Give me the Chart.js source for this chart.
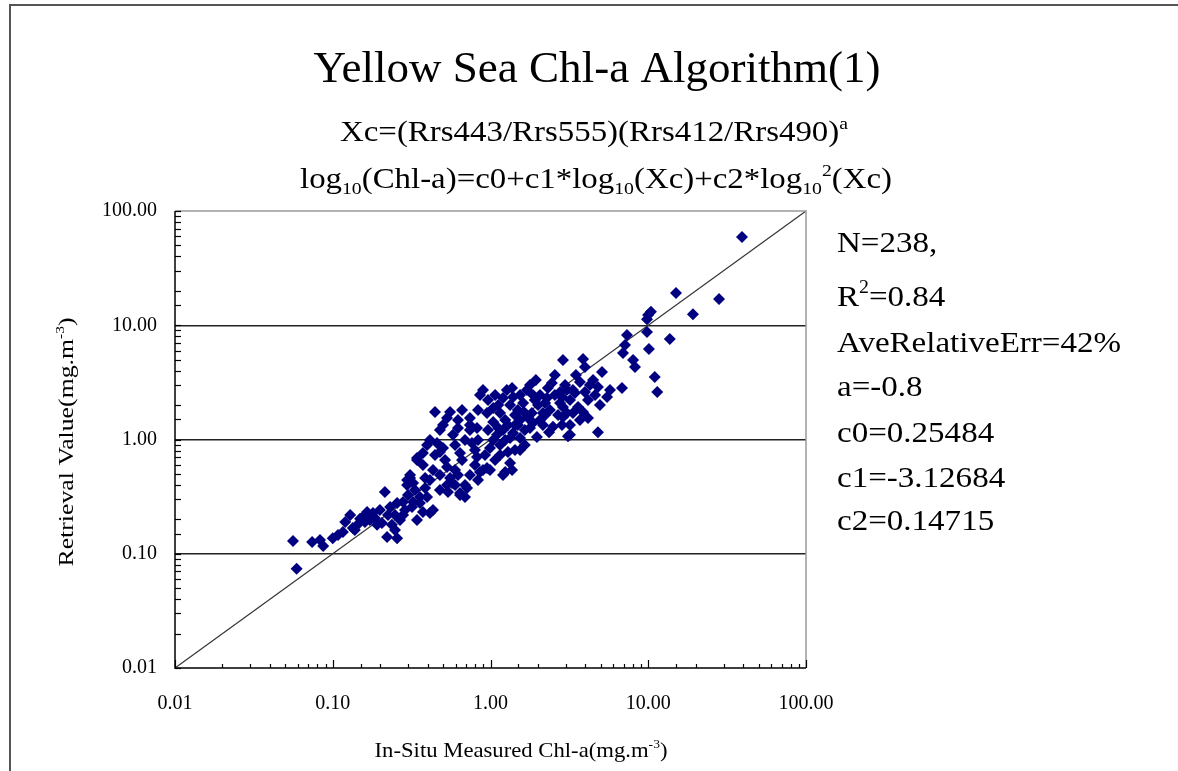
<!DOCTYPE html>
<html>
<head>
<meta charset="utf-8">
<script src="https://cdn.jsdelivr.net/npm/chart.js@4.4.1/dist/chart.umd.min.js"></script>
<style>
html, body { margin: 0; padding: 0; background: #fff; }
</style>
</head>
<body>
<canvas id="chart" width="1178" height="771"></canvas>
<script>
// in-situ chl-a (x) and retrieved chl-a (y), mg.m-3
var insituChl = [
  0.056, 0.059, 0.074, 0.083, 0.087, 0.100, 0.108, 0.116, 0.129, 0.134,
  0.145, 0.149, 0.155, 0.165, 0.172, 0.180, 0.191, 0.199, 0.205, 0.214,
  0.221, 0.231, 0.248, 0.256, 0.256, 0.267, 0.279, 0.287, 0.296, 0.309,
  0.318, 0.323, 0.342, 0.342, 0.357, 0.357, 0.373, 0.373, 0.396, 0.413,
  0.432, 0.279, 0.300, 0.224, 0.185, 0.160, 0.138, 0.237, 0.332, 0.385,
  0.413, 0.458, 0.396, 0.342, 0.373, 0.500, 0.478, 0.530, 0.570, 0.641,
  0.689, 0.530, 0.596, 0.689, 0.710, 0.641, 0.554, 0.478, 0.309, 0.296,
  0.323, 0.432, 0.596, 0.641, 0.763, 0.821, 0.858, 0.741, 0.950, 0.896,
  0.833, 0.741, 0.578, 0.500, 0.622, 0.741, 0.821, 0.660, 0.797, 0.923,
  0.993, 0.515, 0.445, 0.385, 0.478, 0.622, 0.538, 0.833, 1.07, 1.15,
  1.20, 1.24, 1.33, 1.54, 1.43, 1.33, 1.54, 1.20, 1.39, 1.04,
  1.10, 1.24, 1.97, 1.86, 1.65, 1.15, 1.29, 1.65, 1.04, 1.12,
  1.43, 1.78, 2.15, 0.993, 1.37, 0.554, 0.660, 0.530, 0.950, 0.858,
  0.964, 0.896, 0.741, 0.622, 0.445, 0.478, 0.833, 1.04, 1.07, 0.689,
  1.15, 1.27, 1.39, 1.70, 1.61, 1.83, 2.15, 2.38, 2.76, 2.49,
  2.45, 3.43, 3.05, 3.19, 1.33, 1.49, 1.20, 1.91, 2.06, 2.22,
  1.54, 1.43, 1.73, 2.00, 2.56, 2.31, 1.78, 1.24, 2.06, 2.68,
  2.84, 2.35, 1.12, 1.37, 1.63, 1.94, 2.28, 2.76, 1.49, 1.86,
  2.88, 3.86, 3.97, 5.09, 4.47, 4.80, 3.69, 3.33, 3.05, 5.72,
  5.48, 4.94, 2.84, 2.88, 3.59, 3.33, 2.88, 4.15, 4.80, 3.10,
  3.69, 4.15, 4.60, 3.97, 3.19, 3.48, 4.27, 3.86, 3.19, 2.56,
  39.3, 15.0, 28.1, 19.2, 10.4, 9.82, 9.97, 9.82, 13.7, 7.33,
  7.12, 6.92, 10.1, 8.01, 8.24, 11.0, 11.4, 6.82, 0.964, 0.596,
  0.797, 1.29, 2.22, 0.248, 0.120, 0.413, 1.54, 2.97
];
var retrievedChl = [
  0.129, 0.074, 0.127, 0.132, 0.117, 0.137, 0.146, 0.155, 0.218, 0.168,
  0.182, 0.202, 0.210, 0.232, 0.197, 0.227, 0.179, 0.242, 0.186, 0.347,
  0.140, 0.257, 0.218, 0.137, 0.278, 0.197, 0.218, 0.242, 0.442, 0.460,
  0.257, 0.416, 0.197, 0.662, 0.278, 0.314, 0.762, 0.232, 0.314, 0.227,
  0.242, 0.284, 0.327, 0.218, 0.206, 0.190, 0.161, 0.179, 0.361, 0.376,
  0.99, 0.932, 0.895, 0.689, 0.598, 0.843, 0.777, 0.575, 0.416, 0.340,
  0.314, 0.400, 0.400, 0.400, 0.376, 0.327, 0.460, 0.489, 0.489, 0.400,
  0.284, 0.541, 0.541, 0.762, 0.932, 0.703, 0.520, 0.489, 0.563, 0.541,
  0.99, 1.21, 1.10, 1.34, 1.26, 1.34, 1.26, 0.662, 0.598, 0.732,
  0.843, 0.662, 0.732, 0.460, 0.361, 0.489, 0.347, 0.442, 0.662, 0.895,
  0.489, 0.520, 0.623, 0.810, 0.810, 1.03, 1.03, 1.21, 1.14, 1.42,
  1.10, 0.99, 1.05, 1.40, 1.21, 0.732, 0.777, 0.895, 0.99, 1.26,
  1.34, 1.26, 1.34, 0.541, 0.541, 1.74, 1.81, 1.54, 1.71, 2.45,
  2.22, 2.71, 1.54, 1.48, 1.74, 1.21, 1.81, 1.89, 2.45, 0.99,
  1.71, 2.71, 2.36, 2.71, 2.09, 1.71, 1.71, 1.81, 2.09, 1.29,
  3.12, 2.55, 1.71, 1.10, 2.00, 1.81, 2.31, 2.22, 2.45, 2.09,
  2.45, 1.64, 1.54, 2.00, 2.45, 2.82, 3.00, 1.48, 1.48, 1.64,
  1.34, 1.16, 2.00, 2.82, 1.74, 3.32, 2.31, 2.60, 1.34, 2.45,
  4.97, 5.07, 4.31, 3.90, 3.32, 2.88, 3.19, 2.71, 2.71, 2.71,
  2.36, 2.00, 2.36, 1.93, 1.93, 1.71, 1.57, 1.54, 1.16, 1.07,
  1.48, 2.22, 2.45, 2.60, 2.22, 3.67, 3.00, 1.74, 1.34, 3.67,
  59.2, 19.2, 17.0, 12.5, 13.1, 11.3, 12.3, 8.73, 7.58, 8.22,
  6.72, 5.72, 6.20, 4.97, 4.31, 3.52, 2.60, 2.82, 1.21, 0.895,
  0.810, 1.34, 1.64, 0.161, 0.190, 0.442, 1.48, 3.00
];
var oneToOne = [0.01, 100];
var decadeTicks = [0.01, 0.1, 1, 10, 100];
var gridDecades = [0.1, 1, 10];

var chartTitle = [['Yellow Sea Chl-a Algorithm(1)', '']];
var formulaLines = [
  [['Xc=(Rrs443/Rrs555)(Rrs412/Rrs490)', ''], ['a', 'sup']],
  [['log', ''], ['10', 'sub'], ['(Chl-a)=c0+c1*log', ''], ['10', 'sub'], ['(Xc)+c2*log', ''], ['10', 'sub'], ['2', 'sup'], ['(Xc)', '']]
];
var statLines = [
  [['N=238,', '']],
  [['R', ''], ['2', 'sup'], ['=0.84', '']],
  [['AveRelativeErr=42%', '']],
  [['a=-0.8', '']],
  [['c0=0.25484', '']],
  [['c1=-3.12684', '']],
  [['c2=0.14715', '']]
];
var xTitle = [['In-Situ Measured Chl-a(mg.m', ''], ['-3', 'sup'], [')', '']];
var yTitle = [['Retrieval Value(mg.m', ''], ['-3', 'sup'], [')', '']];

var FONT = '"Liberation Serif", "Times New Roman", serif';

function isDecade(v) {
  return decadeTicks.some(function (d) { return Math.abs(v - d) < d * 1e-6; });
}
function isGrid(v) {
  return gridDecades.some(function (d) { return Math.abs(v - d) < d * 1e-6; });
}

function richWidth(ctx, parts, size) {
  var w = 0;
  parts.forEach(function (p) {
    ctx.font = (p[1] ? size * 0.6 : size) + 'px ' + FONT;
    w += ctx.measureText(p[0]).width;
  });
  return w;
}

// draws text with sup/sub parts; width (optional) squeezes it to that width
function drawRich(ctx, parts, x, y, size, align, width, sx) {
  var w = richWidth(ctx, parts, size);
  if (!sx) sx = width ? width / w : 1;
  var x0 = align === 'center' ? x - w * sx / 2 : x;
  ctx.save();
  ctx.translate(x0, y);
  ctx.scale(sx, 1);
  ctx.textAlign = 'left';
  ctx.textBaseline = 'alphabetic';
  ctx.fillStyle = '#000';
  var cx = 0;
  parts.forEach(function (p) {
    var s = p[1] ? size * 0.6 : size;
    var dy = p[1] === 'sup' ? -size * 0.42 : (p[1] === 'sub' ? size * 0.22 : 0);
    ctx.font = s + 'px ' + FONT;
    ctx.fillText(p[0], cx, dy);
    cx += ctx.measureText(p[0]).width;
  });
  ctx.restore();
}

var decor = {
  id: 'decor',
  beforeDraw: function (chart) {
    var ctx = chart.ctx;
    ctx.save();
    ctx.fillStyle = '#fff';
    ctx.fillRect(0, 0, chart.width, chart.height);
    // outer frame (runs off the right and bottom edges)
    ctx.strokeStyle = '#555';
    ctx.lineWidth = 2;
    ctx.strokeRect(10, 5, 1300, 900);
    ctx.restore();
  },
  afterDraw: function (chart) {
    var ctx = chart.ctx;
    var ca = chart.chartArea;
    var xs = chart.scales.x, ys = chart.scales.y;
    ctx.save();
    // plot frame: grey top/right, black axes
    ctx.lineWidth = 1.5;
    ctx.strokeStyle = '#9a9a9a';
    ctx.beginPath();
    ctx.moveTo(ca.left, ca.top); ctx.lineTo(ca.right, ca.top); ctx.lineTo(ca.right, ca.bottom);
    ctx.stroke();
    ctx.strokeStyle = '#000';
    ctx.beginPath();
    ctx.moveTo(ca.left, ca.top); ctx.lineTo(ca.left, ca.bottom); ctx.lineTo(ca.right, ca.bottom);
    ctx.stroke();
    // inward tick marks
    ctx.lineWidth = 1.2;
    ys.ticks.forEach(function (t) {
      var py = Math.round(ys.getPixelForValue(t.value)) + 0.5;
      ctx.beginPath(); ctx.moveTo(ca.left, py); ctx.lineTo(ca.left + 6, py); ctx.stroke();
    });
    xs.ticks.forEach(function (t) {
      var px = Math.round(xs.getPixelForValue(t.value)) + 0.5;
      var len = isDecade(t.value) ? 8 : 4;
      ctx.beginPath(); ctx.moveTo(px, ca.bottom); ctx.lineTo(px, ca.bottom - len); ctx.stroke();
    });

    // titles
    drawRich(ctx, chartTitle[0] ? chartTitle : [], 597, 82, 44, 'center', 567);
    drawRich(ctx, formulaLines[0], 594, 141, 29, 'center', 508);
    drawRich(ctx, formulaLines[1], 596, 188, 29, 'center', 592);

    // stats block
    var statSize = 30;
    var statScale = 284 / richWidth(ctx, statLines[2], statSize);
    var baselines = [252, 306, 352, 396, 442, 487, 530];
    statLines.forEach(function (line, i) {
      drawRich(ctx, line, 837, baselines[i], statSize, 'left', null, statScale);
    });

    // axis titles
    drawRich(ctx, xTitle, 521, 757, 22, 'center', 293);
    ctx.save();
    ctx.translate(73, 442);
    ctx.rotate(-Math.PI / 2);
    drawRich(ctx, yTitle, 0, 0, 22, 'center', 249);
    ctx.restore();
    ctx.restore();
  }
};

function tickLabel(value) {
  return isDecade(value) ? Number(value).toFixed(2) : '';
}

var ctx = document.getElementById('chart').getContext('2d');
var chart = new Chart(ctx, {
  type: 'scatter',
  data: {
    datasets: [
      {
        label: 'Chl-a',
        data: insituChl.map(function (x, i) { return { x: x, y: retrievedChl[i] }; }),
        pointStyle: 'rectRot',
        pointRadius: 6,
        backgroundColor: '#000080',
        borderWidth: 0
      },
      {
        label: '1:1',
        data: oneToOne.map(function (v) { return { x: v, y: v }; }),
        showLine: true,
        pointRadius: 0,
        borderColor: '#333',
        borderWidth: 1.2
      }
    ]
  },
  options: {
    responsive: false,
    animation: false,
    devicePixelRatio: 1,
    layout: { padding: { left: 10, top: 211, right: 372, bottom: 0 } },
    plugins: { legend: { display: false }, tooltip: { enabled: false } },
    scales: {
      x: {
        type: 'logarithmic',
        min: 0.01,
        max: 100,
        border: { display: false },
        grid: { display: false, drawTicks: false },
        ticks: {
          autoSkip: false,
          maxRotation: 0,
          padding: 24,
          color: '#000',
          font: { family: FONT, size: 20 },
          callback: tickLabel
        },
        afterFit: function (s) { s.height = 103; }
      },
      y: {
        type: 'logarithmic',
        min: 0.01,
        max: 100,
        border: { display: false },
        grid: {
          drawTicks: false,
          lineWidth: 1.5,
          color: function (c) { return c.tick && isGrid(c.tick.value) ? '#222' : 'rgba(0,0,0,0)'; }
        },
        ticks: {
          autoSkip: false,
          padding: 18,
          color: '#000',
          font: { family: FONT, size: 20 },
          callback: tickLabel
        },
        afterFit: function (s) { s.width = 165; }
      }
    }
  },
  plugins: [decor]
});
</script>
</body>
</html>
